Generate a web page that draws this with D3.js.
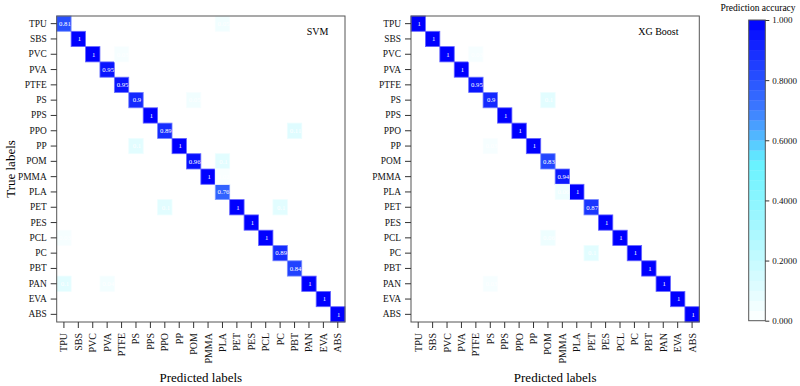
<!DOCTYPE html>
<html>
<head>
<meta charset="utf-8">
<script src="https://cdn.jsdelivr.net/npm/d3@7"></script>
<style>
  body { margin: 0; background: #fff; }
  svg { display: block; font-family: "Liberation Serif", "Times New Roman", serif; }
  .tick line { stroke: #333; }
  .tick text { fill: #111; }
</style>
</head>
<body>
<svg id="chart" width="800" height="386"></svg>
<script>
const categories = ["TPU", "SBS", "PVC", "PVA", "PTFE", "PS", "PPS", "PPO", "PP", "POM",
  "PMMA", "PLA", "PET", "PES", "PCL", "PC", "PBT", "PAN", "EVA", "ABS"];

// diagonal = correctly predicted share per true label
const svmDiagonal = [0.81, 1, 1, 0.95, 0.95, 0.9, 1, 0.89, 1, 0.96, 1, 0.76, 1, 1, 1, 0.89, 0.84, 1, 1, 1];
const xgbDiagonal = [1, 1, 1, 1, 0.95, 0.9, 1, 1, 1, 0.83, 0.94, 1, 0.87, 1, 1, 1, 1, 1, 1, 1];

// [true label, predicted label, share]
const svmOffDiagonal = [
  ["TPU", "PLA", 0.05], ["PVC", "PTFE", 0.03], ["PS", "POM", 0.05], ["PPO", "PBT", 0.11],
  ["PP", "PS", 0.1], ["POM", "PLA", 0.1], ["PMMA", "PLA", 0.02], ["PET", "PPO", 0.1],
  ["PET", "PC", 0.1], ["PCL", "TPU", 0.03], ["PAN", "TPU", 0.1], ["PAN", "PVA", 0.04]
];
const xgbOffDiagonal = [
  ["PVC", "PTFE", 0.03], ["PS", "POM", 0.1], ["PP", "PS", 0.03], ["PLA", "PMMA", 0.06],
  ["PCL", "POM", 0.06], ["PC", "PET", 0.1], ["PAN", "PS", 0.03]
];

const colorbarTicks = [0, 0.2, 0.4, 0.6, 0.8, 1];
const colorbarLabels = ["0.000", "0.2000", "0.4000", "0.6000", "0.8000", "1.000"];

const svg = d3.select("#chart");
const plotTop = 16, plotBottom = 322;

const color = d3.scaleLinear()
  .domain([0, 0.53, 0.7, 1])
  .range(["#ffffff", "#66f2ff", "#3d7cff", "#0000ff"]);

const panels = [
  { name: "SVM", diag: svmDiagonal, off: svmOffDiagonal, x0: 56.7, x1: 345, titleAt: 0.905, yTitle: true },
  { name: "XG Boost", diag: xgbDiagonal, off: xgbOffDiagonal, x0: 411, x1: 699.3, titleAt: 0.858, yTitle: false }
];

for (const p of panels) {
  const x = d3.scaleBand().domain(categories).range([p.x0, p.x1]);
  const y = d3.scaleBand().domain(categories).range([plotTop, plotBottom]);
  const g = svg.append("g");

  const cells = categories.map((c, i) => ({ row: c, col: c, v: p.diag[i] }))
    .concat(p.off.map(([row, col, v]) => ({ row, col, v })));

  g.append("rect")
    .attr("x", p.x0).attr("y", plotTop)
    .attr("width", p.x1 - p.x0).attr("height", plotBottom - plotTop)
    .attr("fill", "#fff");

  g.selectAll("rect.cell").data(cells).join("rect")
    .attr("class", "cell")
    .attr("x", (d) => x(d.col)).attr("y", (d) => y(d.row))
    .attr("width", x.bandwidth()).attr("height", y.bandwidth())
    .attr("fill", (d) => color(d.v))
    .attr("stroke", (d) => d3.interpolateRgb(color(d.v), "#fff")(0.4))
    .attr("stroke-width", 0.8);

  // values on top of every cell (white, so overflow onto white cells disappears)
  g.selectAll("text.val").data(cells).join("text")
    .attr("class", "val")
    .attr("x", (d) => x(d.col) + x.bandwidth() / 2 + 1)
    .attr("y", (d) => y(d.row) + y.bandwidth() / 2)
    .attr("dy", "0.35em")
    .attr("text-anchor", "middle")
    .attr("font-size", 6.7)
    .attr("fill", "#fff")
    .text((d) => String(d.v));

  g.append("rect")
    .attr("x", p.x0).attr("y", plotTop)
    .attr("width", p.x1 - p.x0).attr("height", plotBottom - plotTop)
    .attr("fill", "none").attr("stroke", "#555").attr("stroke-width", 1);

  const ay = g.append("g").attr("transform", `translate(${p.x0},0)`)
    .call(d3.axisLeft(y).tickSize(6).tickPadding(4))
    .attr("font-family", null).attr("font-size", 9.4);
  ay.select(".domain").remove();

  const ax = g.append("g").attr("transform", `translate(0,${plotBottom})`)
    .call(d3.axisBottom(x).tickSize(6).tickPadding(4))
    .attr("font-family", null).attr("font-size", 10);
  ax.select(".domain").remove();
  ax.selectAll("text")
    .attr("transform", "rotate(-90)")
    .attr("x", -11).attr("y", 0).attr("dy", "0.35em")
    .style("text-anchor", "end");

  g.append("text")
    .attr("x", p.x0 + (p.x1 - p.x0) * p.titleAt).attr("y", 35)
    .attr("text-anchor", "middle").attr("font-size", 10)
    .text(p.name);

  g.append("text")
    .attr("x", (p.x0 + p.x1) / 2).attr("y", 382)
    .attr("text-anchor", "middle").attr("font-size", 13)
    .text("Predicted labels");

  if (p.yTitle) {
    g.append("text")
      .attr("transform", `translate(14.5,${(plotTop + plotBottom) / 2}) rotate(-90)`)
      .attr("text-anchor", "middle").attr("font-size", 13)
      .text("True labels");
  }
}

// colorbar
const cbX = 748.7, cbW = 16.6;
const cbY = d3.scaleLinear().domain([0, 1]).range([320.7, 20]);
const nBands = 30;
const cb = svg.append("g");
cb.selectAll("rect.band").data(d3.range(nBands)).join("rect")
  .attr("class", "band")
  .attr("x", cbX).attr("width", cbW)
  .attr("y", (i) => cbY((i + 1) / nBands))
  .attr("height", (i) => cbY(i / nBands) - cbY((i + 1) / nBands) + 0.3)
  .attr("fill", (i) => color((i + 0.5) / nBands));
cb.append("rect")
  .attr("x", cbX).attr("y", cbY(1))
  .attr("width", cbW).attr("height", cbY(0) - cbY(1))
  .attr("fill", "none").attr("stroke", "#555");
const cbAxis = cb.append("g").attr("transform", `translate(${cbX + cbW},0)`)
  .call(d3.axisRight(cbY).tickValues(colorbarTicks)
    .tickFormat((d, i) => colorbarLabels[i]).tickSize(4).tickPadding(3))
  .attr("font-family", null).attr("font-size", 9);
cbAxis.select(".domain").remove();
cb.append("text")
  .attr("x", 758).attr("y", 10.5)
  .attr("text-anchor", "middle").attr("font-size", 9.5)
  .text("Prediction accuracy");
</script>
</body>
</html>
